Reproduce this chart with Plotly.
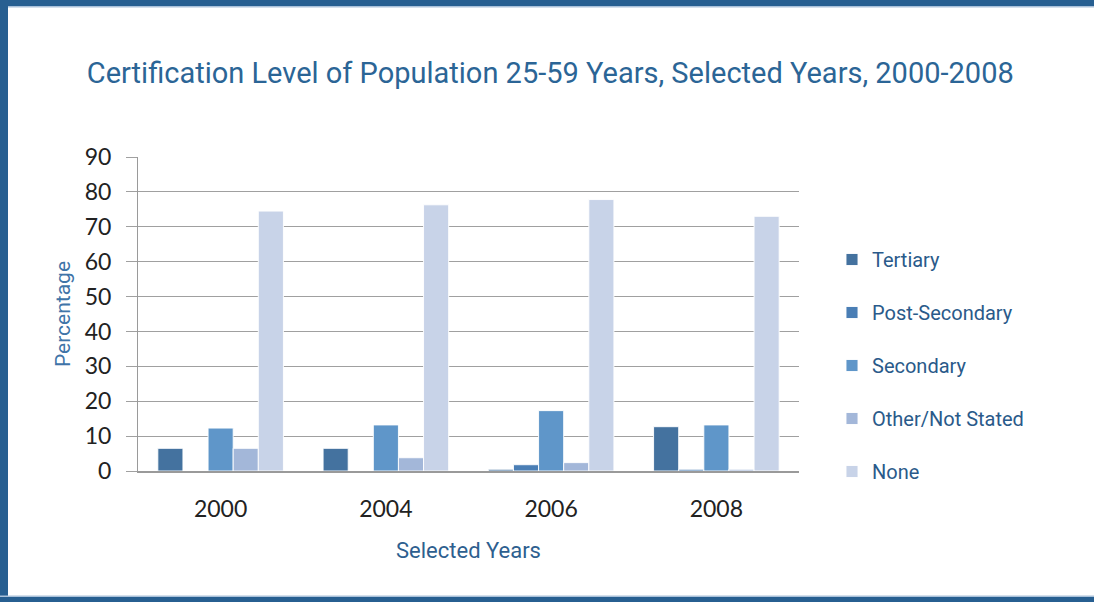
import plotly.graph_objects as go

years = ["2000", "2004", "2006", "2008"]
series_names = ["Tertiary", "Post-Secondary", "Secondary", "Other/Not Stated", "None"]
tertiary = [6.5, 6.5, 0.5, 12.7]
post_secondary = [0.0, 0.0, 1.8, 0.5]
secondary = [12.3, 13.2, 17.3, 13.2]
other_not_stated = [6.5, 3.8, 2.4, 0.5]
none = [74.5, 76.3, 77.8, 73.0]
y_ticks = [0, 10, 20, 30, 40, 50, 60, 70, 80, 90]

colors = ["#44729f", "#4a7eb5", "#5f96c9", "#a3b7d9", "#c8d3e8"]
values = [tertiary, post_secondary, secondary, other_not_stated, none]

fig = go.Figure()
for i, (name, vals, col) in enumerate(zip(series_names, values, colors)):
    fig.add_trace(go.Bar(
        x=years, y=vals, name=name, legendgroup=name,
        marker=dict(color=col, line=dict(color="rgba(255,255,255,0.9)", width=1)),
    ))

L, R, T, B = 138, 295, 157, 131
W, H = 1094, 602
pw, ph = W - L - R, H - T - B

def px_x(p):
    return (p - L) / pw

def px_y(p):
    return (H - B - p) / ph

border = "#275f91"
shapes = [
    dict(type="rect", xref="paper", yref="paper", x0=px_x(0), x1=px_x(W), y0=px_y(0), y1=px_y(6),
         fillcolor=border, line_width=0, layer="above"),
    dict(type="rect", xref="paper", yref="paper", x0=px_x(0), x1=px_x(W), y0=px_y(6), y1=px_y(7.5),
         fillcolor="#a9c1da", line_width=0, layer="above"),
    dict(type="rect", xref="paper", yref="paper", x0=px_x(0), x1=px_x(8), y0=px_y(0), y1=px_y(H),
         fillcolor=border, line_width=0, layer="above"),
    dict(type="rect", xref="paper", yref="paper", x0=px_x(0), x1=px_x(W), y0=px_y(595.5), y1=px_y(597),
         fillcolor="#a9c1da", line_width=0, layer="above"),
    dict(type="rect", xref="paper", yref="paper", x0=px_x(0), x1=px_x(W), y0=px_y(597), y1=px_y(H),
         fillcolor=border, line_width=0, layer="above"),
]

txt_font = "Roboto, Open Sans, sans-serif"
num_font = "Lato, Liberation Sans, sans-serif"

fig.update_layout(
    width=W, height=H,
    margin=dict(l=L, r=R, t=T, b=B),
    paper_bgcolor="white", plot_bgcolor="white",
    barmode="group", bargap=0.24, bargroupgap=0,
    title=dict(text="Certification Level of Population 25-59 Years, Selected Years, 2000-2008",
               x=0.503, xref="container", xanchor="center", y=1 - 73 / H, yanchor="middle",
               font=dict(family=txt_font, size=29, color="#2b6596")),
    legend=dict(x=px_x(832), y=px_y(240), xanchor="left", yanchor="top",
                font=dict(family=txt_font, size=20, color="#2a5a8a"),
                tracegroupgap=24, traceorder="grouped", itemwidth=30, bgcolor="rgba(0,0,0,0)"),
    shapes=shapes,
    showlegend=True,
)
fig.update_xaxes(
    showline=True, linecolor="#9a9a9a", linewidth=2, ticks="",
    ticklabelstandoff=16,
    tickfont=dict(family=num_font, size=23, color="#222222"),
    title=dict(text="Selected Years", standoff=22,
               font=dict(family=txt_font, size=22, color="#2e5f8f")),
)
fig.update_yaxes(
    range=[0, 90], tickvals=y_ticks, showgrid=True, gridcolor="#a0a0a0", gridwidth=1,
    showline=True, linecolor="#9a9a9a", linewidth=1, ticks="outside", ticklen=11, tickcolor="#a0a0a0",
    ticklabelstandoff=10,
    tickfont=dict(family=num_font, size=23, color="#222222"),
    zeroline=False,
    title=dict(text="Percentage", standoff=8,
               font=dict(family=txt_font, size=21, color="#3f74a8")),
)

fig.write_html("out.html", config={"displayModeBar": False},
               post_script="document.body.style.margin='0px';")
